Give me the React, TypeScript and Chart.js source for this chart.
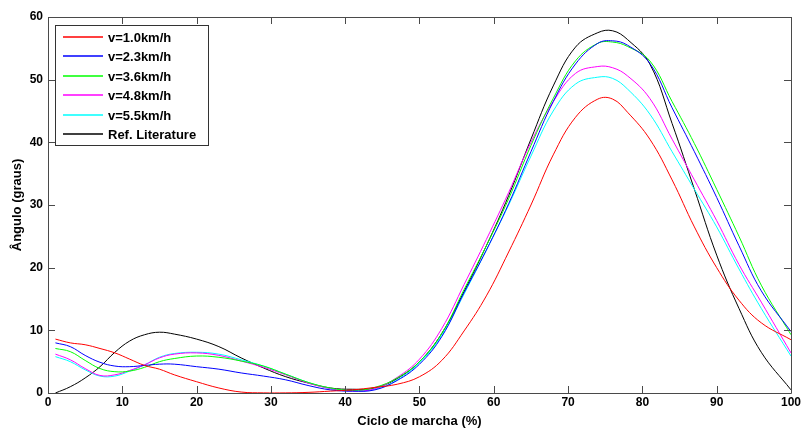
import React, { useEffect, useRef } from "react";
import { Chart, registerables } from "chart.js";

Chart.register(...registerables);

const cycle = [1, 3, 5, 7, 9, 11, 13, 15, 17, 20, 23, 26, 29, 32, 35, 38, 41, 44, 47, 50, 53, 56, 59, 62, 65, 68, 71, 74, 76, 78, 81, 84, 87, 90, 93, 96, 100];

const v10 = [8.6, 8.0, 7.7, 7.1, 6.4, 5.4, 4.4, 3.8, 2.9, 1.8, 0.8, 0.15, 0.02, 0.02, 0.1, 0.3, 0.5, 0.9, 1.4, 2.6, 5.2, 9.9, 15.5, 22.5, 30, 38, 44, 46.9, 46.9, 44.8, 40.5, 34, 26.5, 20, 14.8, 11.2, 8.5];
const v23 = [8.0, 7.4, 6.0, 4.9, 4.3, 4.2, 4.4, 4.6, 4.6, 4.2, 3.8, 3.2, 2.7, 2.1, 1.2, 0.5, 0.3, 0.5, 2.0, 4.6, 9.0, 16.0, 22.8, 30.2, 38.5, 46.5, 52.5, 55.8, 56.2, 55.5, 52.6, 45.5, 38.5, 31.2, 23.5, 16.3, 9.8];
const v36 = [7.1, 6.6, 5.2, 3.9, 3.4, 3.5, 4.1, 5.0, 5.5, 5.9, 5.7, 5.1, 4.3, 3.0, 1.7, 0.8, 0.4, 0.9, 2.4, 5.0, 9.5, 16.5, 23.5, 31, 39.5, 47, 53, 55.8, 56.0, 55.3, 53, 46.5, 39.8, 32.5, 25, 17.2, 9.3];
const v48 = [6.2, 5.3, 3.9, 2.8, 2.9, 3.6, 4.5, 5.6, 6.2, 6.4, 6.0, 5.1, 4.1, 2.9, 1.6, 0.7, 0.3, 0.7, 2.5, 5.4, 10.3, 17.3, 24.5, 32, 40, 46.5, 51, 52.1, 51.9, 50.6, 47, 40.5, 34, 27.5, 20.5, 14.5, 6.4];
const v55 = [5.8, 5.0, 3.7, 2.7, 2.7, 3.5, 4.5, 5.7, 6.3, 6.5, 6.2, 5.3, 4.3, 3.0, 1.7, 0.7, 0.3, 0.6, 2.1, 4.8, 9.2, 15.8, 22.8, 30, 37.8, 45, 49.3, 50.4, 50.2, 48.5, 44.5, 38.5, 32.5, 26.5, 19.8, 13.5, 5.9];
const refLit = [0, 1.0, 2.4, 4.2, 6.5, 8.3, 9.3, 9.7, 9.4, 8.6, 7.4, 5.6, 4.0, 2.6, 1.6, 0.8, 0.6, 0.8, 2.3, 5.0, 9.5, 16.2, 23.5, 31.5, 40.5, 49, 55.2, 57.5, 57.8, 56.4, 52.5, 43, 32.5, 22, 13.5, 6.5, 0.5];

const seriesLabels = ["v=1.0km/h", "v=2.3km/h", "v=3.6km/h", "v=4.8km/h", "v=5.5km/h", "Ref. Literature"];
const seriesValues = [v10, v23, v36, v48, v55, refLit];
const seriesColors = ["#ff0000", "#0000ff", "#00ff00", "#ff00ff", "#00ffff", "#000000"];

const xTicks = [0, 10, 20, 30, 40, 50, 60, 70, 80, 90, 100];
const yTicks = [0, 10, 20, 30, 40, 50, 60];

const FONT = "'Liberation Sans', Arial, Helvetica, sans-serif";

const framePlugin = {
  id: "frame",
  afterDatasetsDraw(chart: any) {
    const { ctx, chartArea, scales } = chart;
    const { left, right, top, bottom } = chartArea;
    ctx.save();
    ctx.strokeStyle = "#4a4a4a";
    ctx.lineWidth = 1;
    ctx.beginPath();
    ctx.rect(Math.round(left) + 0.5, Math.round(top) + 0.5, Math.round(right - left), Math.round(bottom - top));
    ctx.stroke();
    const tl = 7;
    ctx.beginPath();
    xTicks.forEach((v) => {
      const px = Math.round(scales.x.getPixelForValue(v)) + 0.5;
      ctx.moveTo(px, bottom);
      ctx.lineTo(px, bottom - tl);
      ctx.moveTo(px, top);
      ctx.lineTo(px, top + tl);
    });
    yTicks.forEach((v) => {
      const py = Math.round(scales.y.getPixelForValue(v)) + 0.5;
      ctx.moveTo(left, py);
      ctx.lineTo(left + tl, py);
      ctx.moveTo(right, py);
      ctx.lineTo(right - tl, py);
    });
    ctx.stroke();
    ctx.restore();
  },
};

const legendPlugin = {
  id: "boxLegend",
  afterDraw(chart: any) {
    const { ctx, chartArea } = chart;
    const x0 = chartArea.left + 7;
    const y0 = chartArea.top + 8;
    const w = 153;
    const h = 120;
    ctx.save();
    ctx.fillStyle = "#ffffff";
    ctx.fillRect(x0, y0, w, h);
    ctx.strokeStyle = "#333333";
    ctx.lineWidth = 1;
    ctx.strokeRect(Math.round(x0) + 0.5, Math.round(y0) + 0.5, w, h);
    ctx.font = "bold 13px " + FONT;
    ctx.textBaseline = "middle";
    ctx.textAlign = "left";
    chart.data.datasets.forEach((ds: any, i: number) => {
      const cy = Math.round(y0 + 11.5 + i * 19.5);
      ctx.strokeStyle = seriesColors[i];
      ctx.lineWidth = 1.3;
      ctx.beginPath();
      ctx.moveTo(x0 + 8, cy);
      ctx.lineTo(x0 + 48, cy);
      ctx.stroke();
      ctx.fillStyle = "#000000";
      ctx.fillText(ds.label, x0 + 53, cy + 1);
    });
    ctx.restore();
  },
};

export default function App() {
  const ref = useRef<HTMLCanvasElement | null>(null);
  useEffect(() => {
    if (!ref.current) return;
    const chart = new Chart(ref.current, {
      type: "line",
      data: {
        datasets: seriesValues.map((vals, i) => ({
          label: seriesLabels[i],
          data: vals.map((y, j) => ({ x: cycle[j], y })),
          borderColor: seriesColors[i],
          backgroundColor: seriesColors[i],
          borderWidth: 1,
          pointRadius: 0,
          tension: 0.4,
          fill: false,
        })),
      },
      options: {
        responsive: false,
        animation: false,
        layout: { padding: { left: 0, top: 17, right: 11, bottom: 0 } },
        plugins: { legend: { display: false }, tooltip: { enabled: false } },
        scales: {
          x: {
            type: "linear",
            min: 0,
            max: 100,
            afterFit: (s: any) => { s.height = 39; },
            afterBuildTicks: (s: any) => { s.ticks = xTicks.map((v) => ({ value: v })); },
            grid: { display: false, drawTicks: false },
            border: { display: false },
            ticks: { padding: 2, color: "#000", font: { family: FONT, size: 12, weight: "bold" }, maxRotation: 0 },
            title: { display: true, text: "Ciclo de marcha (%)", color: "#000", font: { family: FONT, size: 13, weight: "bold" }, padding: { top: 0, bottom: 3 } },
          },
          y: {
            type: "linear",
            min: 0,
            max: 60,
            afterFit: (s: any) => { s.width = 48; },
            afterBuildTicks: (s: any) => { s.ticks = yTicks.map((v) => ({ value: v })); },
            grid: { display: false, drawTicks: false },
            border: { display: false },
            ticks: { padding: 5, color: "#000", font: { family: FONT, size: 12, weight: "bold" } },
            title: { display: true, text: "Ângulo (graus)", color: "#000", font: { family: FONT, size: 13, weight: "bold" }, padding: { top: 10, bottom: 0 } },
          },
        },
      },
      plugins: [framePlugin, legendPlugin],
    });
    return () => chart.destroy();
  }, []);
  return (
    <div style={{ position: "fixed", left: 0, top: 0, width: 803, height: 432, background: "#fff" }}>
      <canvas ref={ref} width={803} height={432} style={{ display: "block" }} />
    </div>
  );
}
